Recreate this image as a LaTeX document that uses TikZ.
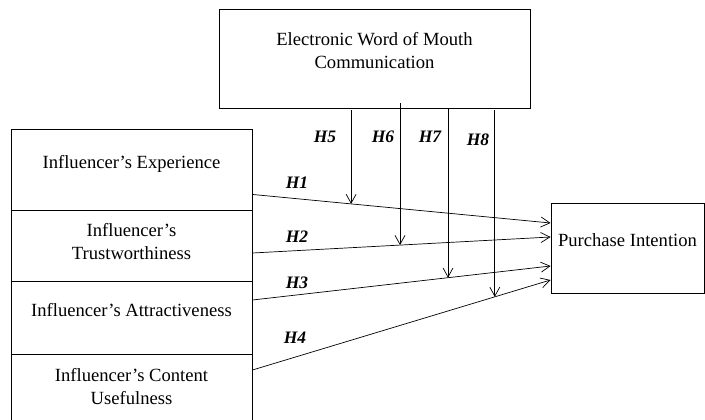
\documentclass[tikz,border=0pt]{standalone}
\usepackage{fontspec}
\setmainfont{Liberation Serif}
\usetikzlibrary{arrows.meta, positioning}

\begin{document}
\begin{tikzpicture}[x=1pt, y=-1pt,
    font=\fontsize{18.6}{23}\selectfont,
    factor/.style={draw, line width=0.9pt, inner sep=0pt, minimum width=241pt},
    hyp/.style={-{Straight Barb[length=9pt, width=10pt]}, line width=0.7pt},
    hlabel/.style={font=\fontsize{17.5}{20}\selectfont\bfseries\itshape, inner sep=0pt}]

  \useasboundingbox (0,0) rectangle (705,420);

  % Moderator
  \node[factor, minimum width=311pt, minimum height=99pt,
        label={[name=ewomtext, align=center, yshift=8pt]center:Electronic Word of Mouth\\Communication}] (ewom) at (374.5,58.5) {};

  % Independent variables
  \node[factor, minimum height=81pt,
        label={[name=exptext, yshift=6pt]center:Influencer's Experience}] (exp) at (131.5,169.5) {};
  \node[factor, minimum height=71pt,
        label={[name=trusttext, align=center, yshift=4pt]center:Influencer's\\Trustworthiness}] (trust) at (131.5,245.5) {};
  \node[factor, minimum height=73pt,
        label={[name=attrtext, yshift=7pt]center:Influencer's Attractiveness}] (attr) at (131.5,317.5) {};
  \node[factor, minimum height=75pt,
        label={[name=conttext, align=center, yshift=5pt]center:Influencer's Content\\Usefulness}] (cont) at (131.5,391.5) {};

  % Dependent variable
  \node[factor, minimum width=153pt, minimum height=90pt,
        label={[name=pitext, yshift=8pt]center:Purchase Intention}] (pi) at (627.5,248) {};

  % Direct effects
  \draw[hyp] ([yshift=16pt]exp.south east) -- coordinate[pos=0.331] (m1) ([yshift=25pt]pi.west);
  \draw[hyp] ([yshift=-7.5pt]trust.east) -- coordinate[pos=0.495] (m2) ([yshift=11pt]pi.west);
  \draw[hyp] ([yshift=17.5pt]attr.east) -- coordinate[pos=0.656] (m3) ([yshift=-18pt]pi.west);
  \draw[hyp] ([yshift=21.5pt]cont.east) -- coordinate[pos=0.813] (m4) ([yshift=-32pt]pi.west);

  % Moderating effects
  \draw[hyp] ([yshift=-2pt]m1 |- ewom.south) -- (m1);
  \draw[hyp] ([yshift=5pt]m2 |- ewom.south) -- (m2);
  \draw[hyp] (m3 |- ewom.south) -- (m3);
  \draw[hyp] ([yshift=-2pt]m4 |- ewom.south) -- (m4);

  % Hypothesis labels
  \node[hlabel] (h1) at (297,183) {H1};
  \node[hlabel] (h2) at (297,237) {H2};
  \node[hlabel] (h3) at (297,283) {H3};
  \node[hlabel] (h4) at (295,338) {H4};
  \node[hlabel] (h5) at (325,137) {H5};
  \node[hlabel] (h6) at (383,137) {H6};
  \node[hlabel] (h7) at (430,137) {H7};
  \node[hlabel] (h8) at (478,140) {H8};
\end{tikzpicture}
\end{document}
